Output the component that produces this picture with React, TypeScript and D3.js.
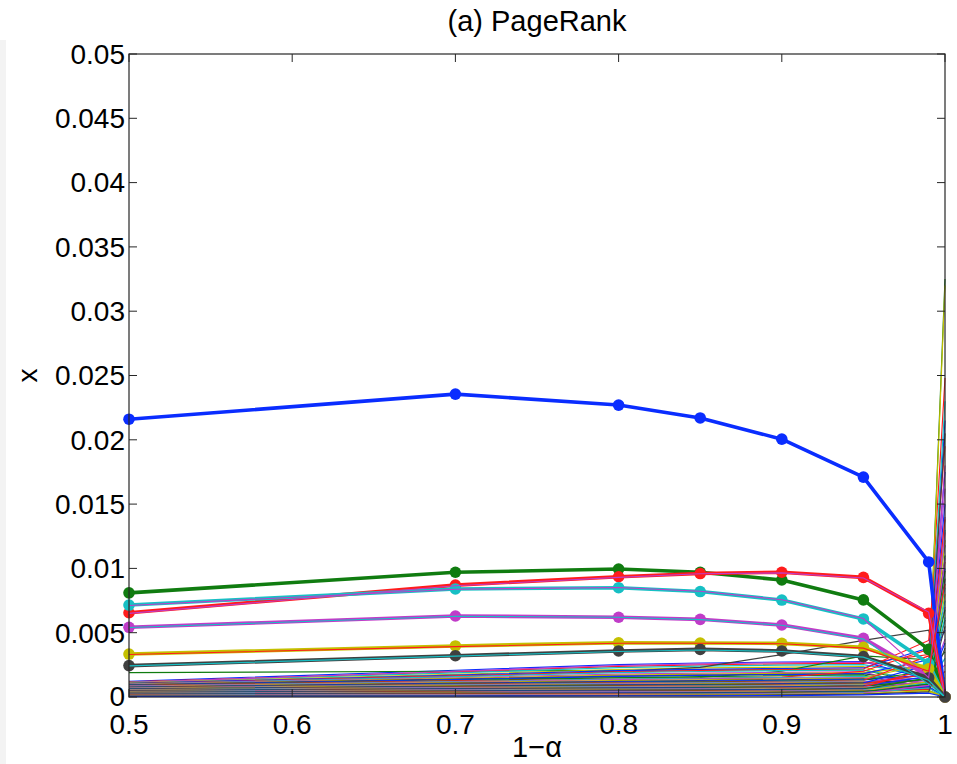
import React from "react";
import * as d3 from "d3";

// 1 - alpha values where the solution was computed
const alphaSteps = [0.5, 0.7, 0.8, 0.85, 0.9, 0.95, 0.99, 1.0];

const xTicks = [0.5, 0.6, 0.7, 0.8, 0.9, 1];
const yTicks = [0, 0.005, 0.01, 0.015, 0.02, 0.025, 0.03, 0.035, 0.04, 0.045, 0.05];

// matlab default colour order
const palette = ["#0a2dff", "#107c10", "#ff1c1c", "#17bfc4", "#c03cc8", "#c4c000", "#404040"];

// highlighted nodes (thick lines with markers), in palette order
const blueNode = [0.0216, 0.02355, 0.0227, 0.0217, 0.02005, 0.0171, 0.0105, 0];
const greenNode = [0.0081, 0.0097, 0.00995, 0.0097, 0.0091, 0.00755, 0.0037, 0];
const redNode = [0.00655, 0.0087, 0.00935, 0.0096, 0.0097, 0.0093, 0.0065, 0];
const cyanNode = [0.00715, 0.0084, 0.0085, 0.0082, 0.00754, 0.00607, 0.0026, 0];
const magentaNode = [0.00542, 0.0063, 0.0062, 0.00604, 0.0056, 0.00456, 0.0016, 0];
const yellowNode = [0.00334, 0.00397, 0.00422, 0.0042, 0.00417, 0.00386, 0.0022, 0];
const greyNode = [0.00244, 0.00321, 0.00358, 0.0037, 0.00358, 0.00314, 0.0015, 0];
const mainNodes = [blueNode, greenNode, redNode, cyanNode, magentaNode, yellowNode, greyNode];

// all the other nodes (thin lines), colour cycles through the palette
const otherNodes = [
  [0.00122, 0.00208, 0.00252, 0.00264, 0.00272, 0.00275, 0.00135, 0.0215],
  [0.0019, 0.002, 0.00208, 0.0021, 0.00212, 0.0021, 0.00095, 0.0325],
  [0.00118, 0.00195, 0.00238, 0.0025, 0.00258, 0.00262, 0.0033, 0.0248],
  [0.00114, 0.00188, 0.00228, 0.0024, 0.00248, 0.00252, 0.0016, 0],
  [0.00112, 0.002, 0.00245, 0.00258, 0.00266, 0.0027, 0.0021, 0.0162],
  [0.0011, 0.00176, 0.00214, 0.00226, 0.00232, 0.00236, 0.0007, 0.032],
  [0.001, 0.0016, 0.002, 0.0023, 0.0033, 0.0044, 0.0052, 0],
  [0.00106, 0.0017, 0.00205, 0.00215, 0.00222, 0.00226, 0.0038, 0.0118],
  [0.00104, 0.0014, 0.0015, 0.00152, 0.002, 0.0032, 0.0029, 0],
  [0.00102, 0.00165, 0.00195, 0.00205, 0.00212, 0.00218, 0.0044, 0.0195],
  [0.001, 0.00158, 0.0019, 0.00198, 0.00205, 0.0021, 0.0012, 0.0085],
  [0.00098, 0.0015, 0.00178, 0.00186, 0.00192, 0.00196, 0.0006, 0.014],
  [0.00096, 0.00145, 0.0017, 0.00178, 0.00184, 0.0019, 0.0024, 0],
  [0.00094, 0.0014, 0.00162, 0.0017, 0.00176, 0.00182, 0.001, 0.006],
  [0.00092, 0.00135, 0.0016, 0.00168, 0.00174, 0.00182, 0.0029, 0.0175],
  [0.0009, 0.00128, 0.0015, 0.00158, 0.00165, 0.00172, 0.0005, 0],
  [0.00088, 0.00125, 0.0014, 0.00145, 0.00155, 0.002, 0.0037, 0.0105],
  [0.00085, 0.0012, 0.0014, 0.00146, 0.00152, 0.0016, 0.0014, 0.023],
  [0.00083, 0.00116, 0.00134, 0.0014, 0.00146, 0.00152, 0.0011, 0.0045],
  [0.0008, 0.00112, 0.00128, 0.00134, 0.0014, 0.00148, 0.0026, 0],
  [0.00078, 0.00108, 0.00122, 0.00128, 0.00134, 0.00142, 0.0008, 0.0092],
  [0.00076, 0.00104, 0.00118, 0.00124, 0.0013, 0.00138, 0.0017, 0.015],
  [0.00074, 0.001, 0.00112, 0.00118, 0.00124, 0.00132, 0.002, 0.0035],
  [0.00072, 0.00098, 0.0011, 0.00114, 0.0012, 0.00128, 0.0032, 0],
  [0.0007, 0.00094, 0.00106, 0.0011, 0.00116, 0.00124, 0.0009, 0.013],
  [0.00068, 0.0009, 0.00102, 0.00106, 0.00112, 0.0012, 0.0015, 0.007],
  [0.00066, 0.00088, 0.00098, 0.00102, 0.00108, 0.00116, 0.0004, 0],
  [0.00064, 0.00085, 0.00095, 0.00098, 0.00104, 0.00112, 0.0013, 0.0205],
  [0.00062, 0.00082, 0.00092, 0.00095, 0.001, 0.00108, 0.0025, 0.0052],
  [0.0006, 0.0008, 0.00088, 0.00092, 0.00097, 0.00104, 0.0007, 0.011],
  [0.00058, 0.00077, 0.00085, 0.00088, 0.00094, 0.00102, 0.0018, 0],
  [0.00056, 0.00074, 0.00082, 0.00085, 0.0009, 0.00098, 0.001, 0.003],
  [0.00054, 0.00071, 0.00078, 0.00081, 0.00087, 0.00095, 0.0013, 0.018],
  [0.00052, 0.00068, 0.00075, 0.00078, 0.00084, 0.00092, 0.0006, 0.008],
  [0.0005, 0.00065, 0.00072, 0.00075, 0.0008, 0.00088, 0.0011, 0],
  [0.00048, 0.00062, 0.00069, 0.00072, 0.00077, 0.00085, 0.0016, 0.01],
  [0.00046, 0.0006, 0.00066, 0.00069, 0.00074, 0.00082, 0.0014, 0],
  [0.00044, 0.00058, 0.00064, 0.00066, 0.00071, 0.00079, 0.0022, 0.0138],
  [0.00042, 0.00055, 0.00061, 0.00064, 0.00068, 0.00076, 0.0009, 0.0062],
  [0.0004, 0.00053, 0.00058, 0.00061, 0.00065, 0.00073, 0.0012, 0.0025],
  [0.00038, 0.0005, 0.00056, 0.00058, 0.00062, 0.0007, 0.0005, 0.0122],
  [0.00036, 0.00048, 0.00053, 0.00055, 0.00059, 0.00067, 0.0008, 0],
  [0.00034, 0.00045, 0.0005, 0.00052, 0.00056, 0.00064, 0.001, 0.0042],
  [0.00032, 0.00043, 0.00047, 0.00049, 0.00053, 0.00061, 0.0015, 0.0098],
  [0.0003, 0.0004, 0.00044, 0.00046, 0.0005, 0.00058, 0.0007, 0],
  [0.00028, 0.00037, 0.00041, 0.00043, 0.00047, 0.00055, 0.0011, 0.0075],
  [0.00026, 0.00035, 0.00038, 0.0004, 0.00044, 0.00052, 0.0009, 0.0015],
  [0.00024, 0.00032, 0.00035, 0.00037, 0.00041, 0.00049, 0.0012, 0],
  [0.00022, 0.0003, 0.00033, 0.00034, 0.00038, 0.00046, 0.0006, 0.0055],
  [0.0002, 0.00027, 0.0003, 0.00031, 0.00035, 0.00043, 0.0008, 0],
  [0.00018, 0.00025, 0.00027, 0.00028, 0.00032, 0.0004, 0.001, 0.0068],
  [0.00016, 0.00022, 0.00024, 0.00025, 0.00029, 0.00037, 0.0006, 0.002],
  [0.00014, 0.00019, 0.00021, 0.00022, 0.00026, 0.00034, 0.0007, 0],
  [0.00012, 0.00016, 0.00018, 0.00019, 0.00023, 0.0003, 0.0009, 0.0108],
  [0.0001, 0.00013, 0.00015, 0.00016, 0.0002, 0.00026, 0.0005, 0],
  [0.00008, 0.0001, 0.00012, 0.00013, 0.00016, 0.00022, 0.0004, 0.0038],
  [0.00005, 0.00007, 0.00008, 0.00009, 0.00011, 0.00016, 0.0003, 0],
];

// thin nodes that sit right on top of the highlighted ones
const twinNodes = [
  { color: palette[4], values: [0.00712, 0.00838, 0.00852, 0.00822, 0.00756, 0.0061, 0.0015, 0.0128] },
  { color: palette[3], values: [0.0054, 0.00628, 0.0062, 0.00602, 0.00558, 0.0045, 0.001, 0] },
  { color: palette[4], values: [0.0065, 0.00865, 0.0093, 0.00958, 0.00965, 0.00925, 0.0066, 0] },
  { color: palette[2], values: [0.0033, 0.00392, 0.00418, 0.00418, 0.00414, 0.0038, 0.002, 0.0088] },
  { color: palette[3], values: [0.00242, 0.00318, 0.00354, 0.00366, 0.00354, 0.0031, 0.0013, 0] },
];

const W = 957;
const H = 764;
const left = 129, right = 945, top = 54, bottom = 697;
const font = "'Liberation Sans', Arial, Helvetica, sans-serif";

export default function App() {
  const x = d3.scaleLinear().domain([0.5, 1]).range([left, right]);
  const y = d3.scaleLinear().domain([0, 0.05]).range([bottom, top]);
  const line = d3
    .line<number>()
    .x((d, i) => x(alphaSteps[i]))
    .y((d) => y(d));

  const fmt = (d: number) => (d === 0 ? "0" : String(+d.toFixed(3)));
  const tickLen = 8;

  return (
    <div style={{ position: "absolute", left: 0, top: 0 }}>
      <svg width={W} height={H} style={{ display: "block", background: "#fff" }}>
        <rect x={0} y={40} width={6} height={H - 40} fill="#f3f3f3" />

        {/* thin lines */}
        <g fill="none" strokeWidth={1.15}>
          {otherNodes.map((vals, i) => (
            <path key={i} d={line(vals) || ""} stroke={palette[i % 7]} />
          ))}
        </g>

        {/* highlighted nodes */}
        {mainNodes.map((vals, i) => (
          <g key={i}>
            <path d={line(vals) || ""} fill="none" stroke={palette[i]} strokeWidth={3.6} strokeLinejoin="round" />
            {vals.map((v, j) => (
              <circle key={j} cx={x(alphaSteps[j])} cy={y(v)} r={5.8} fill={palette[i]} />
            ))}
          </g>
        ))}

        <g fill="none" strokeWidth={1.1}>
          {twinNodes.map((t, i) => (
            <path key={i} d={line(t.values) || ""} stroke={t.color} />
          ))}
        </g>

        {/* axes box */}
        <rect x={left} y={top} width={right - left} height={bottom - top} fill="none" stroke="#262626" strokeWidth={1.2} />
        <g stroke="#262626" strokeWidth={1}>
          {yTicks.map((t) => (
            <g key={t}>
              <line x1={left} x2={left + tickLen} y1={y(t)} y2={y(t)} />
              <line x1={right} x2={right - tickLen} y1={y(t)} y2={y(t)} />
            </g>
          ))}
          {xTicks.map((t) => (
            <g key={t}>
              <line x1={x(t)} x2={x(t)} y1={bottom} y2={bottom - tickLen} />
              <line x1={x(t)} x2={x(t)} y1={top} y2={top + tickLen} />
            </g>
          ))}
        </g>

        <g fontFamily={font} fontSize={28} fill="#000">
          {yTicks.map((t) => (
            <text key={t} x={left - 4} y={t === 0 ? y(t) - 1 : y(t)} dy="0.35em" textAnchor="end">
              {fmt(t)}
            </text>
          ))}
          {xTicks.map((t) => (
            <text key={t} x={x(t)} y={bottom + 37} textAnchor="middle">
              {fmt(t)}
            </text>
          ))}
          <text x={(left + right) / 2} y={31} textAnchor="middle" fontSize={29}>
            (a) PageRank
          </text>
          <text x={(left + right) / 2} y={757} textAnchor="middle" fontSize={29}>
            1−α
          </text>
          <text transform={`translate(37,${(top + bottom) / 2}) rotate(-90)`} textAnchor="middle">
            x
          </text>
        </g>
      </svg>
    </div>
  );
}
